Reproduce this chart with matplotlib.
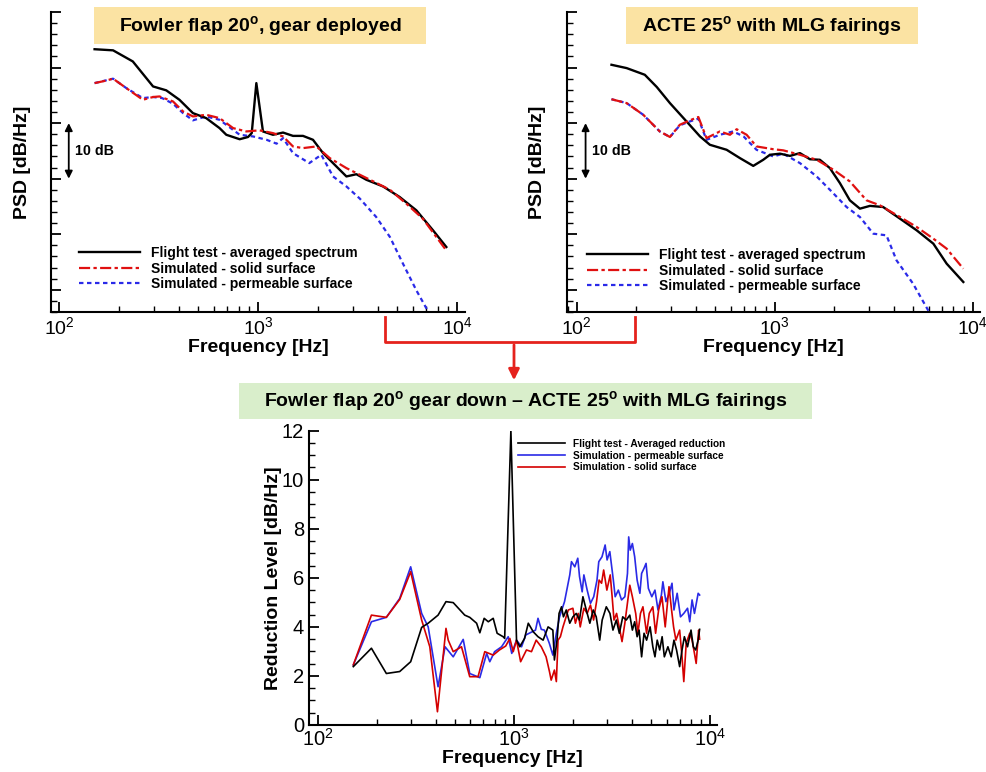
import matplotlib
matplotlib.use("Agg")
import matplotlib.pyplot as plt
from matplotlib.patches import Rectangle, FancyArrowPatch
from matplotlib.lines import Line2D
from matplotlib.ticker import LogLocator, AutoMinorLocator, MultipleLocator, NullFormatter

plt.rcParams['font.family'] = ['Liberation Sans', 'DejaVu Sans']
plt.rcParams['mathtext.fontset'] = 'custom'
plt.rcParams['mathtext.rm'] = 'Liberation Sans'
plt.rcParams['mathtext.bf'] = 'Liberation Sans:bold'
plt.rcParams['mathtext.default'] = 'regular'

# ---------------- data: top-left (Fowler flap 20, gear deployed) ----------------
tl_flight_f = [151, 187, 235, 297, 346, 403, 471, 549, 641, 693, 809, 891, 930, 981, 1059,
               1189, 1336, 1499, 1683, 1889, 2122, 2382, 2781, 3121, 3503, 4248, 5150, 6246,
               7575, 8835]
tl_flight_db = [73.3, 73.1, 71.1, 66.6, 65.9, 64.2, 61.8, 60.9, 59.1, 57.9, 57.1, 57.5, 58.2,
                67.2, 58.5, 57.9, 58.3, 57.7, 57.7, 57.0, 54.6, 52.8, 50.4, 50.8, 49.8, 48.6,
                46.7, 44.3, 40.7, 37.7]
tl_solid_f = [151, 170, 187, 218, 264, 297, 320, 374, 420, 471, 549, 641, 750, 874, 1017,
              1189, 1336, 1499, 1683, 1965, 2294, 2781, 3250, 3800, 4600, 5560, 6730, 8700]
tl_solid_db = [67.2, 67.6, 68.0, 66.3, 64.2, 64.7, 64.8, 63.9, 62.1, 61.2, 61.5, 60.9, 59.1,
               58.5, 58.7, 58.2, 57.6, 55.8, 55.5, 55.8, 53.7, 51.9, 50.7, 49.5, 48.0, 45.5,
               42.8, 37.4]
tl_perm_f = [151, 187, 218, 264, 297, 330, 374, 420, 471, 549, 641, 809, 944, 1104, 1240,
             1336, 1499, 1810, 2080, 2382, 2781, 3250, 3926, 4600, 5350, 6246, 7030, 7400]
tl_perm_db = [67.2, 68.0, 66.3, 64.5, 64.7, 64.5, 63.5, 61.8, 60.5, 61.2, 60.6, 57.9, 57.6,
              57.0, 56.3, 57.3, 54.6, 52.8, 54.3, 50.4, 48.6, 46.4, 43.1, 39.5, 34.7, 29.9,
              26.6, 24.5]

# ---------------- data: top-right (ACTE 25 with MLG fairings) ----------------
tr_flight_f = [150, 179, 221, 254, 296, 359, 420, 471, 572, 668, 780, 876, 947, 1064, 1195,
               1342, 1507, 1692, 1901, 2136, 2398, 2695, 3028, 3530, 4296, 5215, 6330, 7390,
               8970]
tr_flight_db = [70.5, 69.9, 68.7, 66.5, 63.6, 60.3, 57.6, 56.1, 55.2, 53.7, 52.3, 53.4, 54.3,
                54.5, 54.1, 54.6, 53.5, 53.4, 51.9, 49.2, 46.1, 44.6, 45.1, 44.9, 42.8, 40.7,
                38.3, 34.7, 31.4]
tr_solid_f = [150, 179, 217, 263, 296, 332, 373, 412, 453, 529, 595, 643, 722, 810, 984, 1105,
              1342, 1630, 1981, 2398, 2912, 3400, 4296, 5215, 6330, 7390, 8970]
tr_solid_db = [64.3, 63.6, 61.5, 58.5, 57.5, 59.7, 60.5, 61.1, 57.3, 58.5, 57.9, 58.9, 57.9,
               55.8, 55.3, 55.1, 54.3, 53.4, 51.6, 49.5, 46.1, 45.2, 43.1, 41.3, 39.2, 37.4,
               33.8]
tr_perm_f = [150, 179, 217, 263, 296, 332, 373, 412, 453, 529, 617, 697, 810, 984, 1105, 1342,
             1630, 1901, 2308, 2695, 3148, 3670, 4125, 5000, 5960, 6300]
tr_perm_db = [64.3, 63.6, 61.5, 58.5, 57.5, 59.6, 60.3, 60.8, 57.0, 57.9, 58.5, 57.6, 55.2,
              54.0, 54.5, 52.8, 50.4, 48.0, 44.9, 43.1, 40.1, 39.8, 35.3, 31.1, 26.3, 24.5]

# ---------------- data: bottom (reduction level) ----------------
red_flight_f = [152, 188, 224, 262, 298, 339, 366, 411, 451, 491, 562, 596, 646, 671, 706, 741,
                785, 822, 882, 898, 966, 1032, 1072, 1134, 1185, 1256, 1328, 1410, 1495, 1581,
                1610, 1660, 1700, 1750, 1790, 1850, 1928, 2000, 2080, 2160, 2250, 2340, 2440,
                2540, 2630, 2740, 2820, 2960, 3090, 3200, 3330, 3450, 3590, 3740, 3900, 4020,
                4130, 4250, 4350, 4480, 4610, 4750, 4950, 5110, 5240, 5380, 5540, 5700, 5850,
                6100, 6340, 6550, 6750, 7000, 7200, 7400, 7680, 8000, 8220, 8450, 8700, 8850]
red_flight_v = [2.38, 3.13, 2.1, 2.18, 2.58, 3.98, 4.15, 4.48, 5.03, 4.99, 4.48, 4.39, 4.15,
                3.76, 4.35, 4.21, 4.35, 3.74, 3.6, 3.53, 12.0, 3.46, 3.19, 3.53, 4.15, 3.8, 3.6,
                3.46, 4.0, 3.87, 2.65, 3.46, 4.55, 4.82, 4.41, 4.69, 4.15, 4.41, 4.55, 4.28,
                5.23, 4.69, 4.15, 4.69, 4.41, 3.46, 4.28, 4.82, 4.55, 3.87, 4.28, 3.74, 4.41,
                4.28, 4.48, 3.87, 4.21, 3.6, 3.87, 2.78, 3.74, 3.46, 4.0, 3.19, 2.78, 3.46,
                3.06, 3.6, 2.78, 3.19, 2.78, 3.46, 3.06, 2.38, 3.06, 3.6, 3.19, 3.87, 3.19,
                3.06, 3.46, 3.9]
red_perm_f = [152, 188, 224, 262, 298, 339, 366, 411, 446, 491, 552, 596, 671, 727, 754, 798,
              866, 936, 976, 1032, 1095, 1150, 1290, 1328, 1380, 1431, 1517, 1581, 1647, 1710,
              1813, 1928, 1967, 2045, 2118, 2162, 2230, 2275, 2365, 2458, 2554, 2654, 2710,
              2815, 2920, 2988, 3085, 3215, 3285, 3410, 3540, 3680, 3795, 3850, 3920, 4020,
              4130, 4250, 4390, 4480, 4610, 4720, 4850, 5050, 5240, 5430, 5650, 5750, 5960,
              6200, 6400, 6550, 6800, 7070, 7350, 7680, 7880, 8100, 8330, 8700, 8850]
red_perm_v = [2.45, 4.21, 4.39, 5.16, 6.45, 4.55, 4.0, 1.56, 3.19, 2.78, 3.49, 2.1, 1.93, 2.92,
              2.58, 2.99, 3.19, 3.6, 2.92, 3.46, 3.19, 3.67, 3.87, 4.35, 3.9, 3.87, 3.33, 2.85,
              3.74, 4.41, 5.03, 6.12, 6.66, 6.45, 6.8, 6.05, 5.43, 6.12, 5.5, 4.96, 5.23, 5.91,
              6.66, 6.86, 7.34, 6.73, 7.07, 5.91, 5.23, 5.5, 5.1, 5.23, 6.18, 7.67, 7.13, 7.4,
              6.86, 5.91, 5.37, 6.18, 6.39, 6.59, 5.57, 5.23, 5.5, 4.69, 5.3, 5.84, 5.03, 5.37,
              5.78, 4.69, 5.37, 4.41, 4.55, 4.76, 4.21, 5.1, 4.55, 5.37, 5.3]
red_solid_f = [152, 188, 224, 262, 298, 339, 373, 408, 451, 463, 491, 541, 596, 657, 711, 785,
               845, 909, 954, 993, 1032, 1083, 1160, 1230, 1300, 1380, 1460, 1520, 1550, 1610,
               1647, 1680, 1727, 1780, 1895, 2000, 2060, 2130, 2180, 2275, 2365, 2458, 2550,
               2640, 2720, 2800, 2870, 2980, 3100, 3170, 3240, 3340, 3470, 3560, 3680, 3830,
               3900, 4020, 4180, 4290, 4420, 4550, 4750, 4900, 5110, 5280, 5470, 5690, 5910,
               6180, 6340, 6520, 6700, 7000, 7200, 7350, 7560, 7880, 8100, 8330, 8500, 8750,
               8850]
red_solid_v = [2.45, 4.48, 4.39, 5.12, 6.25, 4.28, 3.19, 0.54, 3.94, 3.46, 2.99, 3.19, 1.97,
               1.97, 2.99, 2.85, 3.06, 3.22, 3.53, 2.99, 3.46, 2.58, 3.06, 2.99, 3.46, 3.19,
               2.78, 2.17, 1.83, 2.24, 1.77, 3.46, 3.6, 4.0, 4.69, 4.76, 4.15, 4.55, 4.0, 4.76,
               4.55, 4.89, 4.28, 5.03, 5.91, 5.78, 6.32, 5.5, 6.12, 5.23, 4.28, 4.55, 3.87,
               3.4, 4.15, 5.23, 5.7, 5.23, 4.55, 3.74, 4.55, 4.82, 3.74, 4.55, 4.82, 3.74,
               4.69, 5.23, 4.0, 5.64, 4.82, 4.0, 3.46, 3.87, 2.78, 1.77, 3.33, 3.74, 3.46,
               2.92, 2.51, 3.87, 3.5]

top_labels = ["Flight test - averaged spectrum", "Simulated - solid surface",
              "Simulated - permeable surface"]
bottom_labels = ["Flight test - Averaged reduction", "Simulation - permeable surface",
                 "Simulation - solid surface"]
title_tl = r"Fowler flap 20$^{\mathbf{o}}$, gear deployed"
title_tr = r"ACTE 25$^{\mathbf{o}}$ with MLG fairings"
title_bot = r"Fowler flap 20$^{\mathbf{o}}$ gear down – ACTE 25$^{\mathbf{o}}$ with MLG fairings"

W, H = 987, 772
fig = plt.figure(figsize=(W / 100, H / 100), dpi=100)


def frac_box(x0, y0, x1, y1):
    return [x0 / W, 1 - y1 / H, (x1 - x0) / W, (y1 - y0) / H]


def style_axes(ax, fs_tick=14, ypad=3.5):
    for s in ['top', 'right']:
        ax.spines[s].set_visible(False)
    for s in ['left', 'bottom']:
        ax.spines[s].set_linewidth(1.5)
    ax.set_xscale('log')
    ax.xaxis.set_major_locator(LogLocator(base=10, numticks=10))
    ax.xaxis.set_minor_locator(LogLocator(base=10, subs=range(2, 10), numticks=20))
    ax.xaxis.set_minor_formatter(NullFormatter())
    ax.tick_params(which='major', direction='in', length=7, width=1.3, labelsize=fs_tick)
    ax.tick_params(which='minor', direction='in', length=4, width=1.0)
    ax.tick_params(axis='x', which='major', pad=3)
    ax.tick_params(axis='y', which='major', pad=ypad)


solid_ls = (0, (5, 1.5, 1.5, 1.5))
perm_ls = (0, (2, 1.6))

# ---------- top-left ----------
ax1 = fig.add_axes(frac_box(51, 12, 465, 312))
style_axes(ax1)
ax1.plot(tl_flight_f, tl_flight_db, color='black', lw=1.7, label=top_labels[0], zorder=3)
ax1.plot(tl_solid_f, tl_solid_db, color='#e01010', lw=1.6, ls=solid_ls,
         label=top_labels[1], zorder=4)
ax1.plot(tl_perm_f, tl_perm_db, color='#2a2ae8', lw=1.6, ls=perm_ls,
         label=top_labels[2], zorder=2)
ax1.set_xlim(10 ** 1.96, 10 ** 4.04)
ax1.set_ylim(26, 80)

# ---------- top-right ----------
ax2 = fig.add_axes(frac_box(566.7, 12, 980, 312))
style_axes(ax2)
ax2.plot(tr_flight_f, tr_flight_db, color='black', lw=1.7, label=top_labels[0], zorder=3)
ax2.plot(tr_solid_f, tr_solid_db, color='#e01010', lw=1.6, ls=solid_ls,
         label=top_labels[1], zorder=4)
ax2.plot(tr_perm_f, tr_perm_db, color='#2a2ae8', lw=1.6, ls=perm_ls,
         label=top_labels[2], zorder=2)
ax2.set_xlim(10 ** 1.95, 10 ** 4.037)
ax2.set_ylim(26, 80)

for ax, xa, xt, lx, ly, legx, legy in [(ax1, 112, 121, -0.068, -0.117, 79, 246),
                                       (ax2, 111, 119, -0.070, -0.117, 587, 248)]:
    ax.yaxis.set_major_locator(MultipleLocator(10))
    ax.yaxis.set_minor_locator(MultipleLocator(2))
    ax.tick_params(axis='y', which='both', labelleft=False)
    ax.set_xlabel("Frequency [Hz]", fontsize=14, fontweight='bold')
    ax.set_ylabel("PSD [dB/Hz]", fontsize=14, fontweight='bold')
    ax.xaxis.set_label_coords(0.5, ly)
    ax.xaxis.label.set_va('center')
    ax.yaxis.set_label_coords(lx, 0.5)
    ax.yaxis.label.set_va('center')
    ax.annotate('', xy=(xa, 60), xytext=(xa, 50),
                arrowprops=dict(arrowstyle='<|-|>', color='black', lw=1.3,
                                mutation_scale=11, shrinkA=0, shrinkB=0))
    ax.text(xt, 55, "10 dB", fontsize=10.3, fontweight='bold', ha='left', va='center')
    ax.legend(loc='upper left', bbox_to_anchor=(legx / W, 1 - legy / H),
              bbox_transform=fig.transFigure, frameon=False,
              prop={'weight': 'bold', 'size': 10}, handlelength=4.4, handletextpad=0.8,
              labelspacing=0.12, borderpad=0, borderaxespad=0)

# ---------- bottom ----------
ax3 = fig.add_axes(frac_box(309, 430.7, 716.7, 725))
style_axes(ax3, fs_tick=14.5, ypad=3.5)
l_flight, = ax3.plot(red_flight_f, red_flight_v, color='black', lw=1.2, zorder=4)
l_perm, = ax3.plot(red_perm_f, red_perm_v, color='#2a2ae6', lw=1.2, zorder=2)
l_solid, = ax3.plot(red_solid_f, red_solid_v, color='#d40000', lw=1.2, zorder=3)
ax3.set_xlim(10 ** 1.956, 10 ** 4.034)
ax3.set_ylim(0, 12)
ax3.yaxis.set_major_locator(MultipleLocator(2))
ax3.yaxis.set_minor_locator(AutoMinorLocator(4))
ax3.tick_params(axis='x', which='major', pad=2)
ax3.set_xlabel("Frequency [Hz]", fontsize=14, fontweight='bold')
ax3.set_ylabel("Reduction Level [dB/Hz]", fontsize=14, fontweight='bold')
ax3.xaxis.set_label_coords(0.5, -0.115)
ax3.xaxis.label.set_va('center')
ax3.yaxis.set_label_coords(-0.088, 0.5)
ax3.yaxis.label.set_va('center')
ax3.legend([l_flight, l_perm, l_solid], bottom_labels, loc='upper left',
           bbox_to_anchor=(518 / W, 1 - 439 / H), bbox_transform=fig.transFigure,
           frameon=False, prop={'weight': 'bold', 'size': 7.3}, handlelength=4.6,
           handletextpad=0.78, labelspacing=0.16, borderpad=0, borderaxespad=0)

# ---------- title boxes ----------
for (x0, y0, x1, y1, col, txt) in [(94, 7, 426, 44, '#fbe3a3', title_tl),
                                   (626, 7, 918, 44, '#fbe3a3', title_tr),
                                   (239, 383, 812, 419, '#d9eecb', title_bot)]:
    fig.add_artist(Rectangle((x0 / W, 1 - y1 / H), (x1 - x0) / W, (y1 - y0) / H,
                             transform=fig.transFigure, facecolor=col, edgecolor='none',
                             zorder=5))
    fig.text((x0 + x1) / 2 / W, 1 - (y0 + y1) / 2 / H, txt, fontsize=14, fontweight='bold',
             ha='center', va='center', zorder=6)

# ---------- red connector ----------
red = '#e5221d'
pts_x = [385, 385, 635, 635]
pts_y = [317, 342, 342, 317]
fig.add_artist(Line2D([x / W for x in pts_x], [1 - y / H for y in pts_y],
                      transform=fig.transFigure, color=red, lw=2.0, zorder=6))
fig.add_artist(FancyArrowPatch(
    (514 / W, 1 - 342 / H), (514 / W, 1 - 383 / H), transform=fig.transFigure,
    arrowstyle='-|>', mutation_scale=16, color=red, lw=2.0, zorder=6))

fig.savefig("out.png", dpi=100)
